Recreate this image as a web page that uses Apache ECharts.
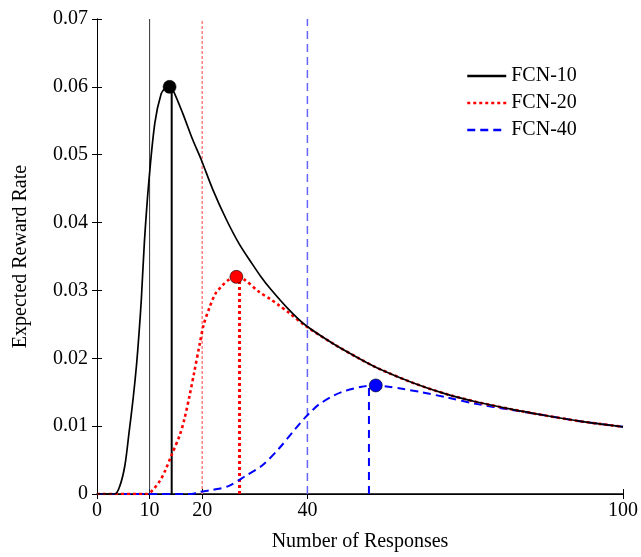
<!DOCTYPE html>
<html>
<head>
<meta charset="utf-8">
<script src="https://cdn.jsdelivr.net/npm/echarts@6/dist/echarts.min.js"></script>
<style>html,body{margin:0;padding:0;background:#fff}#c{width:641px;height:557px}</style>
</head>
<body>
<div id="c"></div>
<script>
// ---- data ----
var xTicks = [0, 10, 20, 40, 100];
var seriesNames = ['FCN-10', 'FCN-20', 'FCN-40'];

var blackX = [0, 3.4, 4.35, 5.3, 6.1, 6.86, 7.5, 8.0, 8.43, 9.0, 9.85, 11, 12.2, 13, 13.8, 14.4, 16.3, 18.2, 19.8, 22, 24.5, 27, 29.6, 31.1, 33, 36.2, 39.6, 45, 50, 53.5, 60, 66.1, 72, 78.7, 85, 92, 100];
var blackY = [0, 0, 0.0012, 0.0042, 0.0091, 0.014, 0.0189, 0.0238, 0.0287, 0.037, 0.046, 0.0547, 0.059, 0.0598, 0.060, 0.0596, 0.0561, 0.0522, 0.0493, 0.0449, 0.0406, 0.0369, 0.0338, 0.0321, 0.0302, 0.0274, 0.0249, 0.0221, 0.0199, 0.0185, 0.0164, 0.0148, 0.0136, 0.0125, 0.0116, 0.0107, 0.0099];

var redX = [0, 9.5, 10.5, 12, 13, 14.1, 15.7, 16.6, 17.6, 18.5, 19.5, 20.3, 21.4, 22.5, 23.8, 25.1, 26.5, 28, 30.8, 33, 34.6, 36.5, 39.6, 45, 50, 53.5, 60, 66.1, 72, 78.7, 85, 92, 100];
var redY = [0, 0, 0.0005, 0.002, 0.0035, 0.0056, 0.0086, 0.011, 0.0145, 0.018, 0.022, 0.025, 0.0275, 0.0295, 0.0307, 0.0316, 0.032, 0.0316, 0.0298, 0.0287, 0.0278, 0.0267, 0.0248, 0.0221, 0.0199, 0.0185, 0.0164, 0.0148, 0.0136, 0.0125, 0.0116, 0.0107, 0.0099];

var blueX = [0, 18, 19.5, 22, 25.1, 28.3, 31.4, 34.6, 37.7, 39.6, 40.9, 42.2, 45, 47.2, 50.3, 52.5, 55.4, 58, 61.7, 66.7, 72, 78.7, 85, 92, 100];
var blueY = [0, 0, 0.0003, 0.0006, 0.0012, 0.0027, 0.0042, 0.0067, 0.0096, 0.0113, 0.0123, 0.0132, 0.0145, 0.0152, 0.0158, 0.016, 0.0158, 0.0155, 0.015, 0.0142, 0.0133, 0.0124, 0.0116, 0.0107, 0.0099];

var refLineX = [10, 20, 40];          // thin full-height reference lines
var peakLineX = [14.2, 27.1, 51.7];   // vertical drop lines at optimum
var peakLineY = [0.06, 0.032, 0.016];
var markerX = [13.8, 26.5, 53];       // optimum dots
var markerY = [0.06, 0.032, 0.016];

// ---- styles ----
var colors = ['#000000', '#ff0000', '#0000ff'];
var curveStyles = [
  {width: 1.7, type: 'solid'},
  {width: 2.6, type: [3, 3]},
  {width: 2, type: [8, 5]}
];
var refStyles = [
  {color: '#333333', width: 1, type: 'solid'},
  {color: '#ff8080', width: 1.5, type: [3, 2]},
  {color: '#6464ff', width: 1.5, type: [8, 5]}
];
var peakStyles = [
  {color: '#000000', width: 2, type: 'solid'},
  {color: '#ff0000', width: 3, type: [3, 3]},
  {color: '#0000ff', width: 2, type: [8, 6]}
];

function zip(xs, ys) { return xs.map(function (x, i) { return [x, ys[i]]; }); }

var curves = [zip(blackX, blackY), zip(redX, redY), zip(blueX, blueY)];
var series = [];

refLineX.forEach(function (x, i) {
  series.push({type: 'line', data: [[x, 0], [x, 0.07]], symbol: 'none', silent: true,
    lineStyle: refStyles[i], z: 1});
});
peakLineX.forEach(function (x, i) {
  series.push({type: 'line', data: [[x, 0], [x, peakLineY[i]]], symbol: 'none', silent: true,
    lineStyle: peakStyles[i], z: 2});
});
curves.forEach(function (d, i) {
  series.push({name: seriesNames[i], type: 'line', data: d, symbol: 'none',
    smooth: 0.3, color: colors[i],
    itemStyle: {color: colors[i]},
    lineStyle: {color: colors[i], width: curveStyles[i].width, type: curveStyles[i].type},
    z: 5 - i});
});
series.push({type: 'scatter', data: zip(markerX, markerY), symbolSize: 13, z: 10,
  itemStyle: {opacity: 1, color: function (p) { return colors[p.dataIndex]; }, borderColor: '#000', borderWidth: 0.6}});

var font = 'Liberation Serif, Times New Roman, serif';
var axisLineStyle = {show: true, lineStyle: {color: '#000', width: 1}};

var option = {
  animation: false,
  backgroundColor: '#fff',
  textStyle: {fontFamily: font, color: '#000'},
  grid: {left: 97, right: 15, top: 19, bottom: 62, containLabel: false},
  legend: {
    data: seriesNames, orient: 'vertical', left: 461, top: 61,
    itemWidth: 39, itemHeight: 20, itemGap: 7,
    itemStyle: {color: 'rgba(0,0,0,0)', borderColor: 'rgba(0,0,0,0)', borderWidth: 0},
    lineStyle: {width: 2.5},
    textStyle: {fontFamily: font, fontSize: 20, color: '#000'},
    selectedMode: false
  },
  xAxis: [{
    type: 'value', min: 0, max: 100, position: 'bottom',
    name: 'Number of Responses', nameLocation: 'middle', nameGap: 38,
    nameTextStyle: {fontFamily: font, fontSize: 20, color: '#000'},
    axisLine: {show: true, lineStyle: {color: '#000', width: 1.5}}, splitLine: {show: false},
    axisTick: {show: true, inside: true, length: 5, customValues: xTicks, lineStyle: {color: '#000'}},
    axisLabel: {customValues: xTicks, fontFamily: font, fontSize: 20, color: '#000', margin: 7}
  }, {
    type: 'value', min: 0, max: 100, position: 'top',
    axisLine: axisLineStyle, splitLine: {show: false},
    axisTick: {show: true, inside: true, length: 5, customValues: xTicks, lineStyle: {color: '#000'}},
    axisLabel: {show: false}
  }],
  yAxis: [{
    type: 'value', min: 0, max: 0.07, interval: 0.01, position: 'left',
    name: 'Expected Reward Rate', nameLocation: 'middle', nameGap: 66,
    nameTextStyle: {fontFamily: font, fontSize: 20, color: '#000'},
    axisLine: axisLineStyle, splitLine: {show: false},
    axisTick: {show: true, inside: true, length: 5, lineStyle: {color: '#000'}},
    axisLabel: {fontFamily: font, fontSize: 20, color: '#000', margin: 9,
      formatter: function (v) { return Math.abs(v) < 1e-9 ? '0' : v.toFixed(2); }}
  }, {
    type: 'value', min: 0, max: 0.07, interval: 0.01, position: 'right',
    axisLine: axisLineStyle, splitLine: {show: false},
    axisTick: {show: true, inside: true, length: 5, lineStyle: {color: '#000'}},
    axisLabel: {show: false}
  }],
  series: series
};

var chart = echarts.init(document.getElementById('c'), null, {renderer: 'canvas'});
chart.setOption(option);
</script>
</body>
</html>
